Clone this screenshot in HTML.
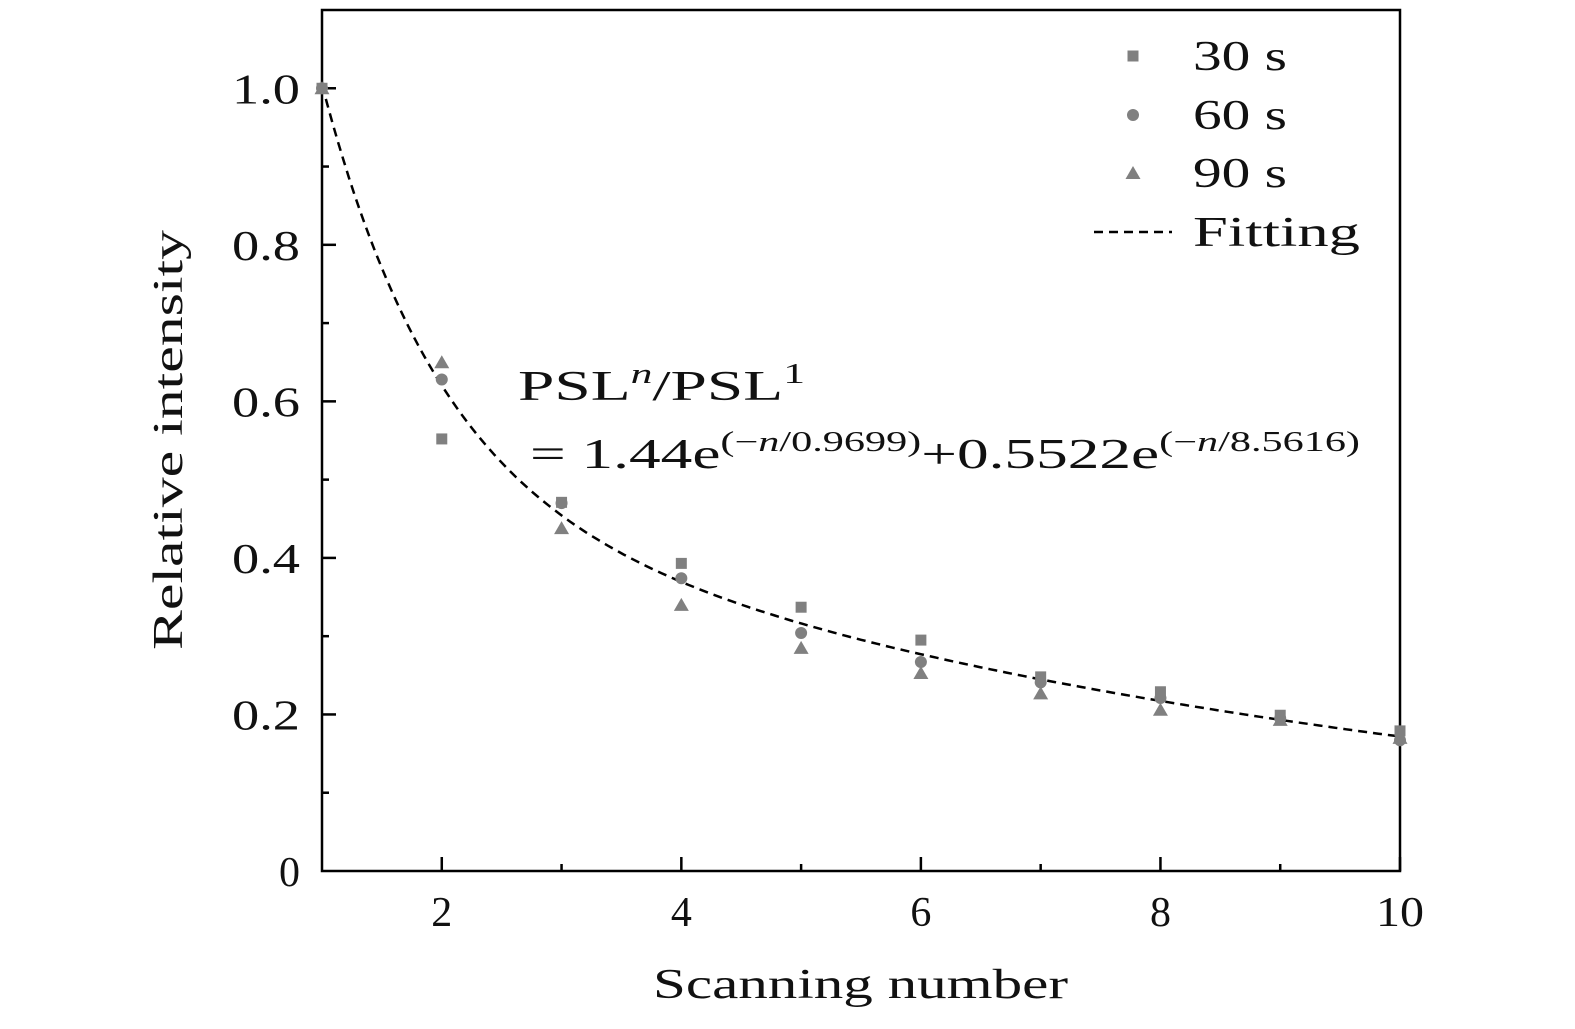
<!DOCTYPE html>
<html><head><meta charset="utf-8"><style>
html,body{margin:0;padding:0;background:#fff;}
svg text{font-family:"Liberation Serif",serif;fill:#111;}
</style></head><body>
<svg id="chart" width="1575" height="1024" viewBox="0 0 1575 1024">
<g id="axes"></g><g id="marks"></g><g id="legend"></g>
<text x="518" y="400" font-size="42" textLength="287" lengthAdjust="spacingAndGlyphs">PSL<tspan font-size="28" dy="-17" font-style="italic">n</tspan><tspan dy="17">/PSL</tspan><tspan font-size="28" dy="-17">1</tspan></text>
<text x="530" y="468" font-size="42" textLength="830" lengthAdjust="spacingAndGlyphs">= 1.44e<tspan font-size="28" dy="-17">(−<tspan font-style="italic">n</tspan>/0.9699)</tspan><tspan dy="17">+0.5522e</tspan><tspan font-size="28" dy="-17">(−<tspan font-style="italic">n</tspan>/8.5616)</tspan></text>
<text x="653" y="998" font-size="42" textLength="415" lengthAdjust="spacingAndGlyphs">Scanning number</text>
<text transform="translate(182,650) rotate(-90)" font-size="42" textLength="420" lengthAdjust="spacingAndGlyphs">Relative intensity</text>
</svg>
<script>
const scanN=[1,2,3,4,5,6,7,8,9,10];
const s30=[1.0,0.552,0.471,0.393,0.337,0.295,0.248,0.229,0.199,0.179];
const s60=[1.0,0.628,0.470,0.374,0.304,0.267,0.241,0.221,0.195,0.167];
const s90=[1.0,0.650,0.438,0.340,0.285,0.253,0.227,0.206,0.193,0.170];
const fitA=[1.44,0.5522];
const fitT=[0.9699,8.5616];
const xTicks=[2,4,6,8,10];
const yTicks=[0,0.2,0.4,0.6,0.8,1.0];
const yTickLabels=["0","0.2","0.4","0.6","0.8","1.0"];
const L=322,R=1400,T=10,B=871,X0=1,X1=10,Y0=0,Y1=1.1;
const xs=v=>L+(v-X0)/(X1-X0)*(R-L);
const ys=v=>B-(v-Y0)/(Y1-Y0)*(B-T);
const NS="http://www.w3.org/2000/svg";
function mk(tag,attrs,parent){const e=document.createElementNS(NS,tag);for(const k in attrs)e.setAttribute(k,attrs[k]);parent.appendChild(e);return e;}
const ax=document.getElementById('axes'),mg=document.getElementById('marks'),lg=document.getElementById('legend');
let r=mk('rect',{x:L,y:T,width:R-L,height:B-T,fill:'none',stroke:'#000','stroke-width':2.5},ax);


for(let v=2;v<=10;v++){const major=v%2===0;let t=mk('line',{x1:xs(v),x2:xs(v),y1:B,y2:B-(major?14:7),stroke:'#000','stroke-width':2.5},ax);

}
xTicks.forEach(v=>{let t=mk('text',{x:xs(v),y:926,'font-size':42,'text-anchor':'middle'},ax);t.textContent=String(v);
if(v===10){t.setAttribute('textLength','48');t.setAttribute('lengthAdjust','spacingAndGlyphs');}

});
for(let i=1;i<=10;i++){const v=i/10;const major=i%2===0;let t=mk('line',{x1:L,x2:L+(major?14:7),y1:ys(v),y2:ys(v),stroke:'#000','stroke-width':2.5},ax);

}
yTicks.forEach((v,i)=>{let t=mk('text',{x:300,y:ys(v)+15,'font-size':42,'text-anchor':'end'},ax);t.textContent=yTickLabels[i];
if(i>0){t.setAttribute('textLength','68');t.setAttribute('lengthAdjust','spacingAndGlyphs');}

});
let d='';for(let k=0;k<=200;k++){const n=X0+(X1-X0)*k/200;const y=fitA[0]*Math.exp(-n/fitT[0])+fitA[1]*Math.exp(-n/fitT[1]);d+=(k?'L':'M')+xs(n).toFixed(1)+','+ys(y).toFixed(1);}
let fp=mk('path',{d:d,fill:'none',stroke:'#000','stroke-width':2.5,'stroke-dasharray':'9,6'},mg);


const gray='#808080';
function sq(x,y,p){return mk('rect',{x:x-5.5,y:y-5.5,width:11,height:11,fill:gray},p);}
function ci(x,y,p){return mk('circle',{cx:x,cy:y,r:6,fill:gray},p);}
function tri(x,y,p){return mk('polygon',{points:`${x},${y-7} ${x-7.5},${y+6} ${x+7.5},${y+6}`,fill:gray},p);}
scanN.forEach((n,i)=>{let a=sq(xs(n),ys(s30[i]),mg);
let b=ci(xs(n),ys(s60[i]),mg);
let c=tri(xs(n),ys(s90[i]),mg);});
const labs=['30 s','60 s','90 s','Fitting'];const ly=[56,115,173,232];const lw=[94,94,94,167];
let m=sq(1133,ly[0],lg);
m=ci(1133,ly[1],lg);
m=tri(1133,ly[2],lg);
m=mk('line',{x1:1094,x2:1172,y1:ly[3],y2:ly[3],stroke:'#000','stroke-width':2.5,'stroke-dasharray':'9,6'},lg);
labs.forEach((s,i)=>{let t=mk('text',{x:1193,y:ly[i]+14,'font-size':42,textLength:lw[i],lengthAdjust:'spacingAndGlyphs'},lg);t.textContent=s;

});
</script>
</body></html>
